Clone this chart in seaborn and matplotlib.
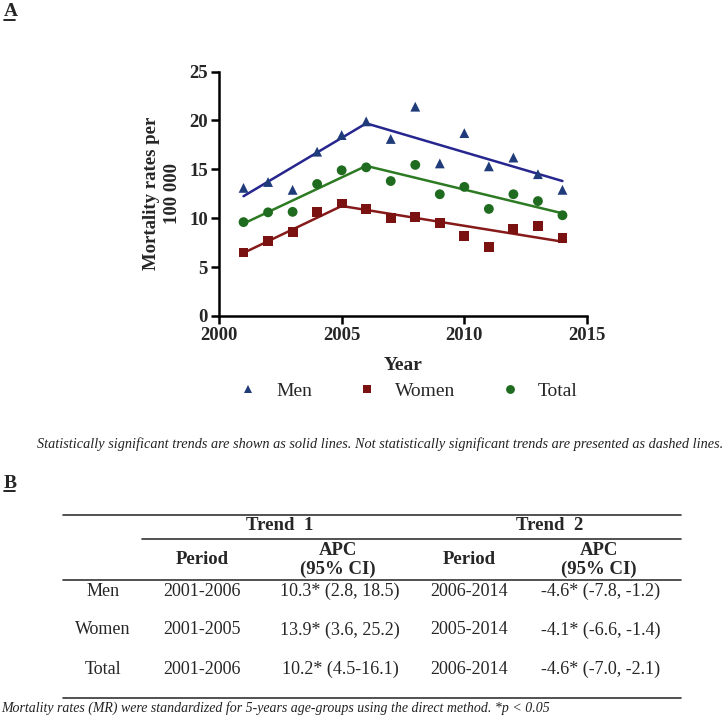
import numpy as np
import pandas as pd
import matplotlib
matplotlib.use("Agg")
import matplotlib.pyplot as plt
from matplotlib.lines import Line2D
import seaborn as sns

# ---------------- data ----------------
years = [2001, 2002, 2003, 2004, 2005, 2006, 2007, 2008, 2009, 2010, 2011, 2012, 2013, 2014]
men = [13.1, 13.7, 12.9, 16.8, 18.5, 19.9, 18.1, 21.4, 15.6, 18.7, 15.3, 16.2, 14.5, 12.9]
women = [6.5, 7.7, 8.6, 10.6, 11.5, 10.9, 10.0, 10.1, 9.55, 8.2, 7.05, 8.9, 9.2, 7.95]
total = [9.6, 10.6, 10.65, 13.5, 14.9, 15.2, 13.8, 15.45, 12.45, 13.2, 10.95, 12.45, 11.75, 10.3]

# joinpoint trend lines (start, joinpoint, end)
men_trend_x = [2001, 2006, 2014]
men_trend_y = [12.25, 19.7, 13.8]
women_trend_x = [2001, 2005, 2014]
women_trend_y = [6.45, 11.25, 7.6]
total_trend_x = [2001, 2006, 2014]
total_trend_y = [9.45, 15.35, 10.5]

groups = ["Men", "Women", "Total"]
x_ticks = [2000, 2005, 2010, 2015]
y_ticks = [0, 5, 10, 15, 20, 25]

# table
row_labels = ["Men", "Women", "Total"]
period1 = ["2001-2006", "2001-2005", "2001-2006"]
apc1 = ["10.3* (2.8, 18.5)", "13.9* (3.6, 25.2)", "10.2* (4.5-16.1)"]
period2 = ["2006-2014", "2005-2014", "2006-2014"]
apc2 = ["-4.6* (-7.8, -1.2)", "-4.1* (-6.6, -1.4)", "-4.6* (-7.0, -2.1)"]

caption = ("Statistically significant trends are shown as solid lines. "
           "Not statistically significant trends are presented as dashed lines.")
footnote = ("Mortality rates (MR) were standardized for 5-years age-groups "
            "using the direct method. *p < 0.05")

# ---------------- style ----------------
sns.set_theme(style="ticks")
plt.rcParams["font.family"] = ["Liberation Serif", "DejaVu Serif"]
plt.rcParams["axes.linewidth"] = 1.8

marker_colors = {"Men": "#1f3b7a", "Women": "#7a1212", "Total": "#1f6b1f"}
line_colors = {"Men": "#26268e", "Women": "#861a1a", "Total": "#2c7a22"}
markers = {"Men": "^", "Women": "s", "Total": "o"}

pts = pd.DataFrame({
    "Year": years * 3,
    "Rate": men + women + total,
    "Group": ["Men"] * len(years) + ["Women"] * len(years) + ["Total"] * len(years),
})
fits = pd.DataFrame({
    "Year": men_trend_x + women_trend_x + total_trend_x,
    "Rate": men_trend_y + women_trend_y + total_trend_y,
    "Group": ["Men"] * 3 + ["Women"] * 3 + ["Total"] * 3,
})

W = H = 726
fig = plt.figure(figsize=(7.26, 7.26), dpi=100)


def fx(px):
    return px / W


def fy(py):
    return 1 - py / H


ax = fig.add_axes([fx(219), fy(316), fx(587) - fx(219), fy(71.5) - fy(316)])

sns.lineplot(data=fits, x="Year", y="Rate", hue="Group", hue_order=groups,
             palette=line_colors, linewidth=1.8, legend=False, ax=ax,
             estimator=None, sort=False)
sns.scatterplot(data=pts, x="Year", y="Rate", hue="Group", style="Group",
                hue_order=groups, style_order=groups, palette=marker_colors,
                markers=markers, s=50, linewidth=0, ax=ax, zorder=3)

ax.set_xlim(2000, 2015)
ax.set_ylim(0, 25)
ax.set_xticks(x_ticks)
ax.set_yticks(y_ticks)
ax.set_xticklabels([str(v) for v in x_ticks], fontsize=13.5, fontweight="bold")
ax.set_yticklabels([str(v) for v in y_ticks], fontsize=13.5, fontweight="bold")
ax.tick_params(axis="both", length=6, width=1.8, color="black", pad=2)
for s in ["top", "right"]:
    ax.spines[s].set_visible(False)
for s in ["left", "bottom"]:
    ax.spines[s].set_color("black")
ax.set_xlabel("Year", fontsize=14, fontweight="bold", labelpad=9)
ax.set_ylabel("Mortality rates per\n100 000", fontsize=13.5, fontweight="bold",
              labelpad=6, linespacing=1.3)

handles, labels = ax.get_legend_handles_labels()
ax.get_legend().remove()
fig.legend(handles, labels, loc="center", bbox_to_anchor=(fx(408), fy(391)),
           ncol=3, frameon=False, prop={"size": 14}, handlelength=1.0,
           handletextpad=0.95, columnspacing=2.3, markerscale=0.9)

# panel labels
def panel_label(txt, x, y):
    t = fig.text(fx(x), fy(y), txt, fontsize=14, fontweight="bold",
                 ha="left", va="center")
    fig.add_artist(Line2D([fx(x), fx(x + 11)], [fy(y + 8), fy(y + 8)],
                          color="black", lw=1.2))
    return t

panel_label("A", 4, 12)
panel_label("B", 4, 483)

fig.text(fx(37), fy(444), caption, fontsize=10.3, style="italic",
         ha="left", va="center", color="#222222")

# ---------------- table ----------------
rule_kw = dict(color="#333333", lw=1.2)
fig.add_artist(Line2D([fx(63), fx(681)], [fy(515), fy(515)], **rule_kw))
fig.add_artist(Line2D([fx(142), fx(681)], [fy(539), fy(539)], **rule_kw))
fig.add_artist(Line2D([fx(63), fx(681)], [fy(580), fy(580)], **rule_kw))
fig.add_artist(Line2D([fx(63), fx(681)], [fy(698), fy(698)], **rule_kw))

hdr = dict(fontsize=13.5, fontweight="bold", ha="center", va="center")
fig.text(fx(280), fy(526), "Trend  1", **hdr)
fig.text(fx(550), fy(526), "Trend  2", **hdr)
fig.text(fx(202), fy(559), "Period", **hdr)
fig.text(fx(469), fy(559), "Period", **hdr)
fig.text(fx(338), fy(560), "APC\n(95% CI)", linespacing=1.1, **hdr)
fig.text(fx(599), fy(560), "APC\n(95% CI)", linespacing=1.1, **hdr)

cell = dict(fontsize=13, ha="center", va="center")
row_y = [591, 630, 669]
for i, yy in enumerate(row_y):
    fig.text(fx(103), fy(yy), row_labels[i], **cell)
    fig.text(fx(202), fy(yy), period1[i], **cell)
    fig.text(fx(340), fy(yy), apc1[i], **cell)
    fig.text(fx(469), fy(yy), period2[i], **cell)
    fig.text(fx(601), fy(yy), apc2[i], **cell)

fig.text(fx(1), fy(708), footnote, fontsize=10, style="italic",
         ha="left", va="center", color="#222222")

fig.savefig("out.png", dpi=100)
